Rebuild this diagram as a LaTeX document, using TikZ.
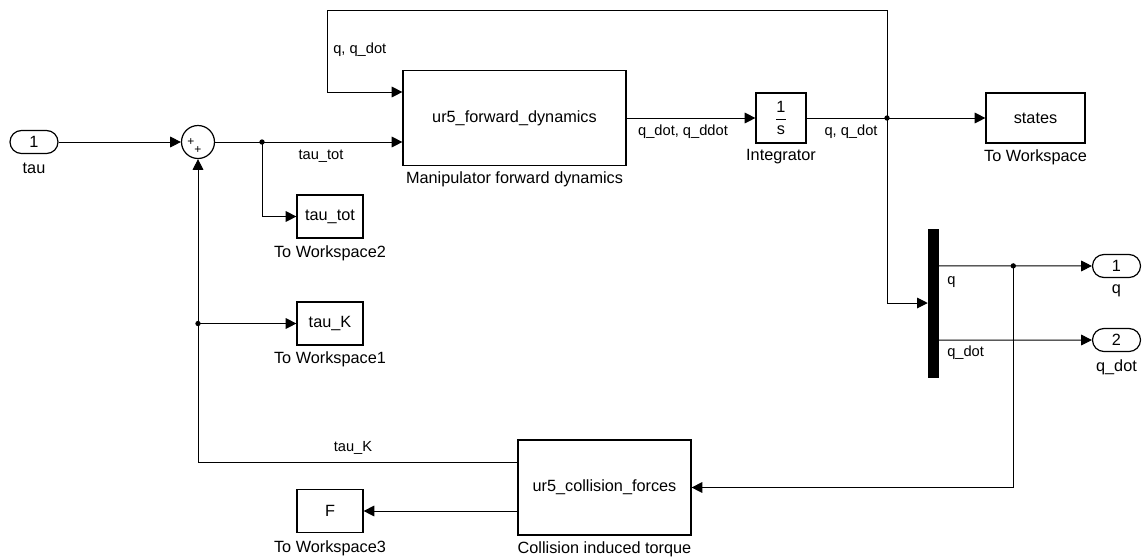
\documentclass[tikz,border=0pt]{standalone}
\usepackage{amsmath}
\usepackage{fontspec}
\setmainfont{Liberation Sans}
\usepackage{tikz}
\usetikzlibrary{calc,arrows.meta}

\begin{document}
\begin{tikzpicture}[x=0.75pt,y=-0.75pt,
	blk/.style={draw, line width=0.9pt, font=\fontsize{12.2}{14}\selectfont, inner sep=0pt},
	port/.style={blk, rounded corners=8.6pt, minimum width=36pt, minimum height=17.25pt},
	ws/.style={blk, minimum width=49.5pt, minimum height=32.25pt},
	sig/.style={line width=0.75pt, -{Triangle[length=8pt,width=8pt]}},
	txt/.style={font=\fontsize{12.2}{14}\selectfont, inner sep=0pt},
	siglbl/.style={font=\fontsize{11}{13}\selectfont, inner sep=0pt},
]

% frame %{{{2

	\useasboundingbox (0,0) rectangle (1146,558);

% blocks %{{{2

	\node[port] (tauIn) at (34,142) {1};
	\node[draw, circle, line width=0.9pt, minimum size=24.75pt, inner sep=0pt] (sum) at (198,142) {};
	\node[blk, minimum width=167.25pt, minimum height=71.25pt] (fwd) at (514.5,118) {ur5\_forward\_dynamics};
	\node[blk, minimum width=37.5pt, minimum height=37.5pt] (integ) at (781,118) {$\dfrac{\text{1}}{\text{s}}$};
	\node[blk, minimum width=74.25pt, minimum height=37.5pt] (states) at (1035.5,118) {states};
	\node[ws] (wsTot) at (330,216.5) {tau\_tot};
	\node[ws] (wsK) at (330,323.5) {tau\_K};
	\node[ws] (wsF) at (330,511) {F};
	\node[blk, minimum width=129.75pt, minimum height=71.25pt] (coll) at (604.5,487.5) {ur5\_collision\_forces};
	\node[draw, fill=black, minimum width=7.5pt, minimum height=111pt, inner sep=0pt] (mux) at (933,303) {};
	\node[port] (outQ) at (1116.5,266) {1};
	\node[port] (outQd) at (1116.5,340) {2};

	\node[font=\fontsize{9}{9}\selectfont, inner sep=0pt] (sumP1) at ($(sum)+(-7,0)$) {+};
	\node[font=\fontsize{9}{9}\selectfont, inner sep=0pt] (sumP2) at ($(sum)+(0,8)$) {+};

% coordinates %{{{2

	\coordinate (brTot) at (262,142);
	\coordinate (brQ) at (887,118);
	\coordinate (brK) at (sum |- wsK);
	\coordinate (loopL) at (327,10);
	\coordinate (fwdIn1) at ($(fwd.west)+(0,-26)$);
	\coordinate (muxOut1) at ($(mux.north east)!0.25!(mux.south east)$);
	\coordinate (muxOut2) at ($(mux.north east)!0.75!(mux.south east)$);
	\coordinate (brM) at ($(muxOut1)+(75,0)$);
	\coordinate (collOut1) at ($(coll.west)+(0,-25.5)$);
	\coordinate (collOut2) at ($(coll.west)+(0,23.5)$);

% signals %{{{2

	\draw[sig] (tauIn) -- (sum);
	\draw[sig] (sum) -- (fwd.west |- sum);
	\draw[sig] (brTot) |- (wsTot);
	\draw[sig] (fwd) -- (integ);
	\draw[sig] (integ) -- (states);
	\draw[sig] (brQ) |- (loopL) |- (fwdIn1);
	\draw[sig] (brQ) |- (mux);
	\draw[sig] (muxOut1) -- (outQ);
	\draw[sig] (muxOut2) -- (outQd);
	\draw[sig] (brM) |- (coll);
	\draw[sig] (collOut1) -| (sum);
	\draw[sig] (brK) -- (wsK);
	\draw[sig] (collOut2) -- (wsF);

% branch points %{{{2

	\fill (brTot) circle (2pt);
	\fill (brQ) circle (2pt);
	\fill (brK) circle (2pt);
	\fill (brM) circle (2pt);

% block labels %{{{2

	\node[txt] (tauLbl) at (34,168) {tau};
	\node[txt] (fwdLbl) at (514.5,179) {Manipulator forward dynamics};
	\node[txt] (integLbl) at (781,157) {Integrator};
	\node[txt] (statesLbl) at (1035.5,157) {To Workspace};
	\node[txt] (wsTotLbl) at (330,253) {To Workspace2};
	\node[txt] (wsKLbl) at (330,359) {To Workspace1};
	\node[txt] (wsFLbl) at (330,548) {To Workspace3};
	\node[txt] (collLbl) at (604.5,549) {Collision induced torque};
	\node[txt] (outQLbl) at (1116.5,291) {q};
	\node[txt] (outQdLbl) at (1116.5,367) {q\_dot};

% signal labels %{{{2

	\node[siglbl] (tauTotSig) at (321,156) {tau\_tot};
	\node[siglbl] (qdSig) at (683,132) {q\_dot, q\_ddot};
	\node[siglbl] (qSig) at (851,132) {q, q\_dot};
	\node[siglbl, anchor=west] (loopSig) at (333,50) {q, q\_dot};
	\node[siglbl] (tauKSig) at (353,448) {tau\_K};
	\node[siglbl, anchor=west] (muxQSig) at (947,282) {q};
	\node[siglbl, anchor=west] (muxQdSig) at (947,353) {q\_dot};

% closing %{{{2

\end{tikzpicture}
\end{document}
